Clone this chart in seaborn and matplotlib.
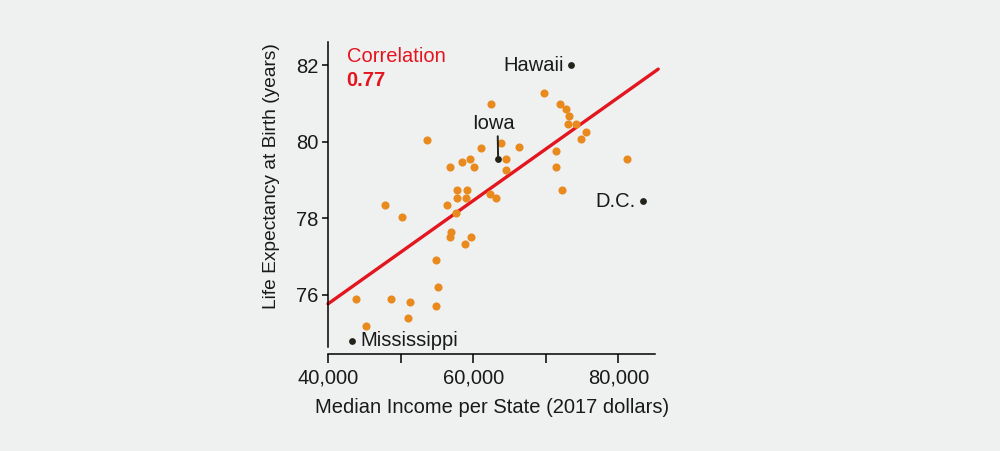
import numpy as np
import pandas as pd
import seaborn as sns
import matplotlib.pyplot as plt

# states (income in 2017 dollars, life expectancy in years)
income = [62420, 53650, 61100, 59620, 58480, 56860, 60170, 57790, 59210, 57790,
          59030, 62290, 63170, 56450, 47800, 50250, 57650, 69790, 71940, 72860,
          73270, 73040, 74200, 75480, 74830, 63860, 66380, 64590, 71390, 81140,
          64590, 71350, 72270, 57000, 56860, 59760, 58890, 54930, 55170, 43810,
          48730, 51250, 54930, 51030, 45280]
life = [81.00, 80.06, 79.85, 79.56, 79.48, 79.35, 79.35, 78.74, 78.74, 78.54,
        78.54, 78.64, 78.54, 78.34, 78.34, 78.04, 78.13, 81.28, 80.98, 80.87,
        80.68, 80.47, 80.47, 80.27, 80.07, 79.97, 79.86, 79.56, 79.76, 79.56,
        79.25, 79.35, 78.74, 77.63, 77.52, 77.52, 77.32, 76.91, 76.21, 75.90,
        75.90, 75.81, 75.70, 75.39, 75.19]

label_names = ['Hawaii', 'Iowa', 'D.C.', 'Mississippi']
label_income = [73550, 63440, 83440, 43350]
label_life = [82.00, 79.56, 78.44, 74.80]

correlation = '0.77'

BG = '#eff0f0'
ORANGE = '#e98a1e'
RED = '#e3161f'
DARK = '#23231a'
TXT = '#1a1a1a'

sns.set_theme(style='ticks')
plt.rcParams['font.family'] = ['Liberation Sans', 'DejaVu Sans']
plt.rcParams['text.color'] = TXT
plt.rcParams['axes.labelcolor'] = TXT

others = pd.DataFrame({'income': income, 'life': life})
labelled = pd.DataFrame({'name': label_names, 'income': label_income, 'life': label_life})
everyone = pd.concat([others, labelled[['income', 'life']]], ignore_index=True)

fig = plt.figure(figsize=(10, 4.51), dpi=100, facecolor=BG)
ax = fig.add_axes([0.328, 0.2144, 0.3266, 0.6931])
ax.set_facecolor(BG)

# regression line over all states
slope, icpt = np.polyfit(everyone['income'], everyone['life'], 1)
fit_x = np.array([40000, 85500])
ax.plot(fit_x, icpt + slope * fit_x, color=RED, lw=2.4, clip_on=False, zorder=2)

sns.scatterplot(data=others, x='income', y='life', color=ORANGE, s=34,
                linewidth=0, ax=ax, zorder=3)
sns.scatterplot(data=labelled, x='income', y='life', color=DARK, s=24,
                linewidth=0, ax=ax, zorder=4)

for _, row in labelled.iterrows():
    if row['name'] == 'Iowa':
        ax.annotate(row['name'], (row['income'], row['life']), xytext=(-3.4, 18.5),
                    textcoords='offset points', ha='center', va='bottom', fontsize=14.5,
                    arrowprops=dict(arrowstyle='-', color=DARK, lw=1.4,
                                    relpos=(0.6, 0.1), shrinkA=0, shrinkB=0))
    elif row['name'] == 'Mississippi':
        ax.annotate(row['name'], (row['income'], row['life']), xytext=(5.5, 0),
                    textcoords='offset points', ha='left', va='center', fontsize=14.5)
    else:
        ax.annotate(row['name'], (row['income'], row['life']), xytext=(-5.5, 0),
                    textcoords='offset points', ha='right', va='center', fontsize=14.5)

ax.text(0.057, 0.952, 'Correlation', transform=ax.transAxes, color=RED,
        fontsize=14.5, ha='left', va='center')
ax.text(0.057, 0.875, correlation, transform=ax.transAxes, color=RED,
        fontsize=14.5, fontweight='bold', ha='left', va='center')

ax.set_xlim(40000, 85000)
ax.set_ylim(74.44, 82.62)
ax.set_xticks([40000, 50000, 60000, 70000, 80000])
ax.set_xticklabels(['40,000', '', '60,000', '', '80,000'])
ax.set_yticks([76, 78, 80, 82])
ax.spines['top'].set_visible(False)
ax.spines['right'].set_visible(False)
ax.spines['left'].set_bounds(74.64, 82.62)
for sp in ['left', 'bottom']:
    ax.spines[sp].set_linewidth(1.1)
    ax.spines[sp].set_color('black')
ax.tick_params(axis='x', length=6.5, width=1.1, labelsize=14.5, pad=3.5, colors=TXT)
ax.tick_params(axis='y', length=4.5, width=1.1, labelsize=14.5, pad=2.5, colors=TXT)
ax.tick_params(color='black')

ax.set_xlabel('Median Income per State (2017 dollars)', fontsize=14.5)
ax.set_ylabel('Life Expectancy at Birth (years)', fontsize=13.8)
ax.xaxis.set_label_coords(0.503, -0.14)
ax.yaxis.set_label_coords(-0.147, 0.569)

fig.savefig('out.png', dpi=100, facecolor=BG)
